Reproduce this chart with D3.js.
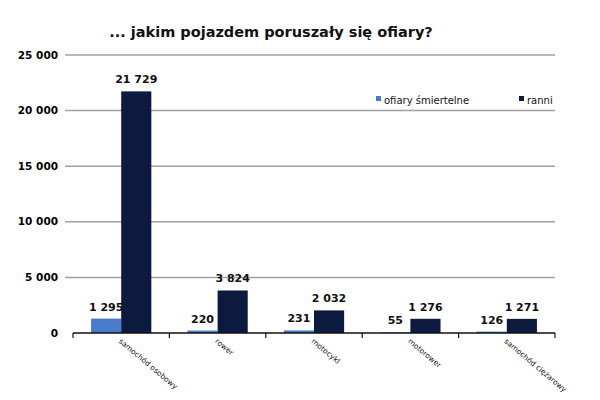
<!DOCTYPE html>
<html>
<head>
<meta charset="utf-8">
<script src="https://cdn.jsdelivr.net/npm/d3@7"></script>
<style>
  body { margin: 0; background: #fff; }
  text { font-family: "DejaVu Sans", Verdana, sans-serif; }
</style>
</head>
<body>
<div id="chart"></div>
<script>
const categories = ["samochód osobowy", "rower", "motocykl", "motorower", "samochód ciężarowy"];
const seriesNames = ["ofiary śmiertelne", "ranni"];
const fatalities = [1295, 220, 231, 55, 126];
const injured = [21729, 3824, 2032, 1276, 1271];
const yTicks = [0, 5000, 10000, 15000, 20000, 25000];
const colors = ["#4a7bcb", "#0b1a3e"];

const W = 600, H = 400;
const margin = { left: 73, right: 45, top: 55, bottom: 67 };

const svg = d3.select("#chart").append("svg").attr("width", W).attr("height", H);

const fmt = v => d3.format(",")(v).replace(/,/g, " ");

const x = d3.scaleBand().domain(categories).range([margin.left, W - margin.right]).paddingInner(0).paddingOuter(0);
const xs = d3.scaleBand().domain(seriesNames).range([0, x.bandwidth()]).paddingInner(0).paddingOuter(0.6);
const y = d3.scaleLinear().domain([0, 25000]).range([H - margin.bottom, margin.top]);

// siatka
svg.append("g").selectAll("line").data(yTicks.filter(t => t > 0)).join("line")
    .attr("x1", margin.left - 8).attr("x2", W - margin.right)
    .attr("y1", d => y(d)).attr("y2", d => y(d))
    .attr("stroke", "#a0a0a0").attr("stroke-width", 1.5);

// etykiety osi Y
svg.append("g").selectAll("text").data(yTicks).join("text")
    .attr("x", margin.left - 15).attr("y", d => y(d)).attr("dy", "0.35em")
    .attr("text-anchor", "end").style("font-size", "10.5px").style("font-weight", "bold")
    .text(d => fmt(d));

const data = categories.map((c, i) => ({ c, vals: [fatalities[i], injured[i]] }));

const groups = svg.append("g").selectAll("g").data(data).join("g")
    .attr("transform", d => `translate(${x(d.c)},0)`);

groups.selectAll("rect").data(d => d.vals.map((v, j) => ({ v, s: seriesNames[j], j }))).join("rect")
    .attr("x", d => xs(d.s)).attr("width", xs.bandwidth())
    .attr("y", d => y(d.v)).attr("height", d => y(0) - y(d.v))
    .attr("fill", d => colors[d.j]);

groups.selectAll("text.val").data(d => d.vals.map((v, j) => ({ v, s: seriesNames[j] }))).join("text")
    .attr("class", "val")
    .attr("x", d => xs(d.s) + xs.bandwidth() / 2).attr("y", d => y(d.v) - 8)
    .attr("text-anchor", "middle").style("font-size", "11px").style("font-weight", "bold")
    .attr("fill", "#111")
    .text(d => fmt(d.v));

// oś X
const axisY = y(0);
svg.append("line").attr("x1", margin.left).attr("x2", W - margin.right)
    .attr("y1", axisY).attr("y2", axisY).attr("stroke", "#111").attr("stroke-width", 1.5);
svg.append("g").selectAll("line").data(categories.map(c => x(c)).concat([W - margin.right])).join("line")
    .attr("x1", d => d).attr("x2", d => d).attr("y1", axisY).attr("y2", axisY + 5)
    .attr("stroke", "#111").attr("stroke-width", 1.2);

svg.append("g").selectAll("text").data(categories).join("text")
    .attr("transform", d => `translate(${x(d) + x.bandwidth() / 2 - 3},${axisY + 9}) rotate(40)`)
    .attr("text-anchor", "start").style("font-size", "7.5px").attr("fill", "#111")
    .text(d => d);

// tytuł
svg.append("text").attr("x", 271).attr("y", 37).attr("text-anchor", "middle")
    .style("font-size", "14.5px").style("font-weight", "bold").attr("fill", "#111")
    .text("... jakim pojazdem poruszały się ofiary?");

// legenda
const legendX = [376, 519];
const legend = svg.append("g").selectAll("g").data(seriesNames).join("g")
    .attr("transform", (d, i) => `translate(${legendX[i]},100)`);
legend.append("rect").attr("x", 0).attr("y", -4).attr("width", 5).attr("height", 5)
    .attr("fill", (d, i) => colors[i]);
legend.append("text").attr("x", 8).attr("y", 0).attr("dy", "0.35em")
    .style("font-size", "10px").attr("fill", "#111").text(d => d);
</script>
</body>
</html>
